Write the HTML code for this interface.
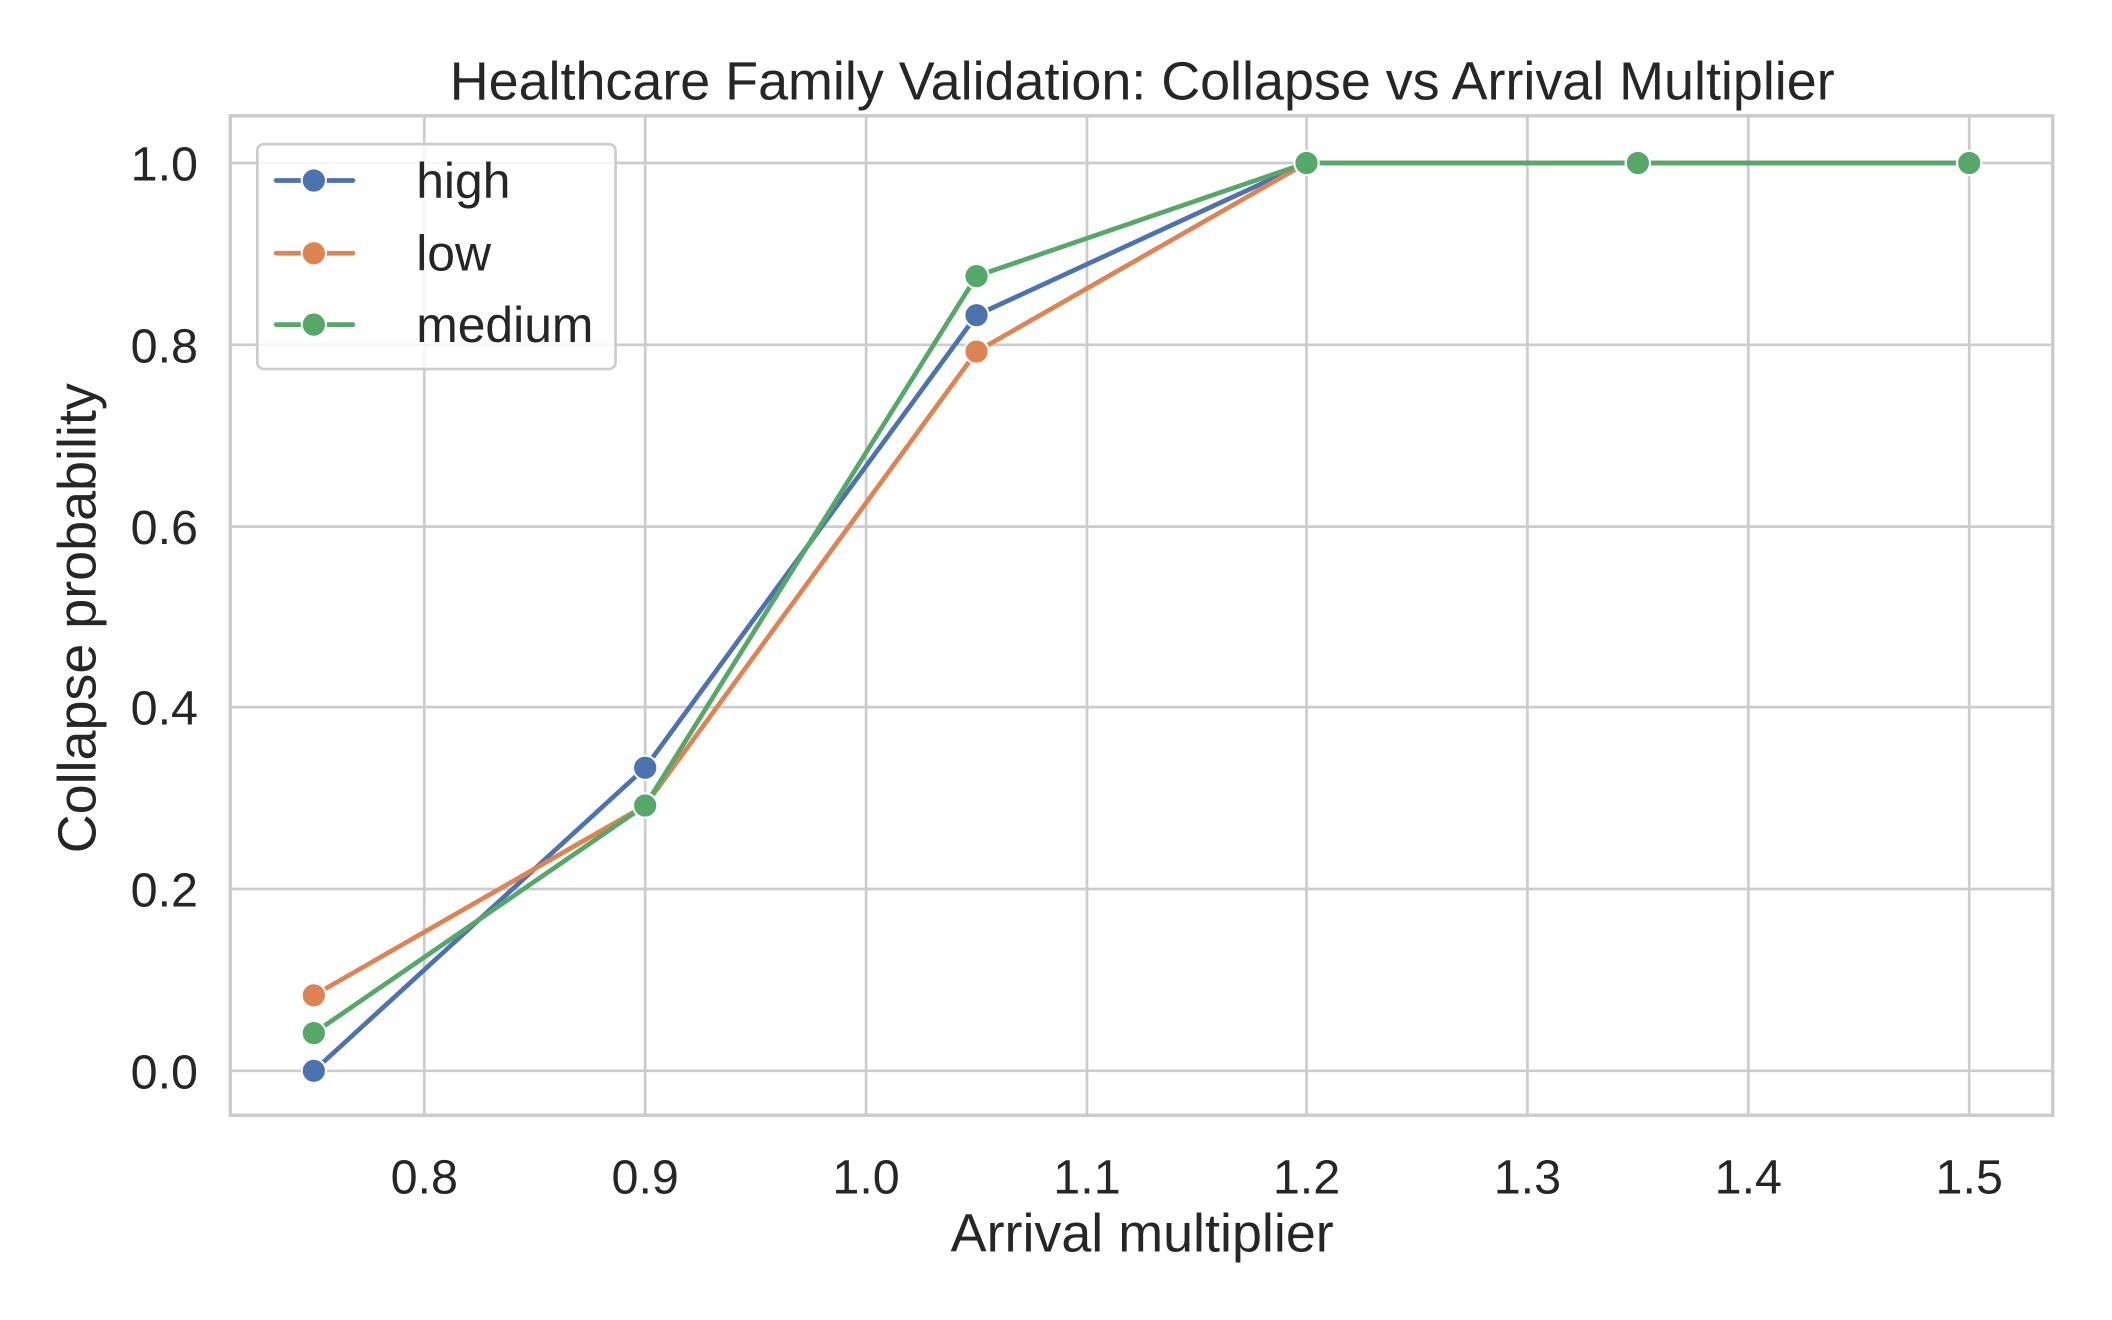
<!DOCTYPE html>
<html><head><meta charset="utf-8"><style>
html,body{margin:0;padding:0;background:#fff;}
svg{display:block;}
text{font-family:"Liberation Sans",Arial,sans-serif;fill:#262626;}
</style></head><body>
<svg width="2112" height="1320" viewBox="0 0 1568 980" xmlns="http://www.w3.org/2000/svg">
<rect width="1568" height="980" fill="#fff"/>
<g stroke="#cccccc" stroke-width="2">
<line x1="315" y1="86" x2="315" y2="828"/>
<line x1="479" y1="86" x2="479" y2="828"/>
<line x1="643" y1="86" x2="643" y2="828"/>
<line x1="807" y1="86" x2="807" y2="828"/>
<line x1="970" y1="86" x2="970" y2="828"/>
<line x1="1134" y1="86" x2="1134" y2="828"/>
<line x1="1298" y1="86" x2="1298" y2="828"/>
<line x1="1462" y1="86" x2="1462" y2="828"/>
<line x1="171" y1="795" x2="1524" y2="795"/>
<line x1="171" y1="660" x2="1524" y2="660"/>
<line x1="171" y1="525" x2="1524" y2="525"/>
<line x1="171" y1="391" x2="1524" y2="391"/>
<line x1="171" y1="256" x2="1524" y2="256"/>
<line x1="171" y1="121" x2="1524" y2="121"/>
</g>
<rect x="171" y="86" width="1353" height="742" fill="none" stroke="#cccccc" stroke-width="2.6"/>
<g style="font-size:36px" text-anchor="middle">
<text x="315" y="886">0.8</text><text x="479" y="886">0.9</text><text x="643" y="886">1.0</text>
<text x="807" y="886">1.1</text><text x="970" y="886">1.2</text><text x="1134" y="886">1.3</text>
<text x="1298" y="886">1.4</text><text x="1462" y="886">1.5</text>
</g>
<g style="font-size:36px" text-anchor="end">
<text x="147" y="808">0.0</text><text x="147" y="673">0.2</text><text x="147" y="538">0.4</text>
<text x="147" y="404">0.6</text><text x="147" y="269">0.8</text><text x="147" y="134">1.0</text>
</g>
<text x="848" y="929" style="font-size:40px" text-anchor="middle">Arrival multiplier</text>
<text transform="translate(71,459) rotate(-90)" style="font-size:40px" text-anchor="middle">Collapse probability</text>
<text x="848" y="74" style="font-size:40px" text-anchor="middle">Healthcare Family Validation: Collapse vs Arrival Multiplier</text>
<g fill="none" stroke-width="3.5" stroke-linejoin="round">
<polyline stroke="#4c72b0" points="233,795 479,570 725,234 970,121 1216,121 1462,121"/>
<polyline stroke="#dd8452" points="233,739 479,598 725,261 970,121 1216,121 1462,121"/>
<polyline stroke="#55a868" points="233,767 479,598 725,205 970,121 1216,121 1462,121"/>
</g>
<g stroke="#fff" stroke-width="1.5">
<g fill="#4c72b0"><circle cx="233" cy="795" r="9"/><circle cx="479" cy="570" r="9"/><circle cx="725" cy="234" r="9"/><circle cx="970" cy="121" r="9"/><circle cx="1216" cy="121" r="9"/><circle cx="1462" cy="121" r="9"/></g>
<g fill="#dd8452"><circle cx="233" cy="739" r="9"/><circle cx="479" cy="598" r="9"/><circle cx="725" cy="261" r="9"/><circle cx="970" cy="121" r="9"/><circle cx="1216" cy="121" r="9"/><circle cx="1462" cy="121" r="9"/></g>
<g fill="#55a868"><circle cx="233" cy="767" r="9"/><circle cx="479" cy="598" r="9"/><circle cx="725" cy="205" r="9"/><circle cx="970" cy="121" r="9"/><circle cx="1216" cy="121" r="9"/><circle cx="1462" cy="121" r="9"/></g>
</g>
<rect x="191" y="107" width="266" height="167" rx="5" fill="#fff" fill-opacity="0.8" stroke="#cccccc" stroke-width="2"/>
<g stroke-width="3.5" stroke-linecap="round">
<line x1="205" y1="134" x2="262" y2="134" stroke="#4c72b0"/>
<line x1="205" y1="188" x2="262" y2="188" stroke="#dd8452"/>
<line x1="205" y1="241" x2="262" y2="241" stroke="#55a868"/>
</g>
<g stroke="#fff" stroke-width="1.5">
<circle cx="233" cy="134" r="9" fill="#4c72b0"/>
<circle cx="233" cy="188" r="9" fill="#dd8452"/>
<circle cx="233" cy="241" r="9" fill="#55a868"/>
</g>
<g style="font-size:37px">
<text x="309" y="147">high</text><text x="309" y="201">low</text><text x="309" y="254">medium</text>
</g>
</svg>
</body></html>
